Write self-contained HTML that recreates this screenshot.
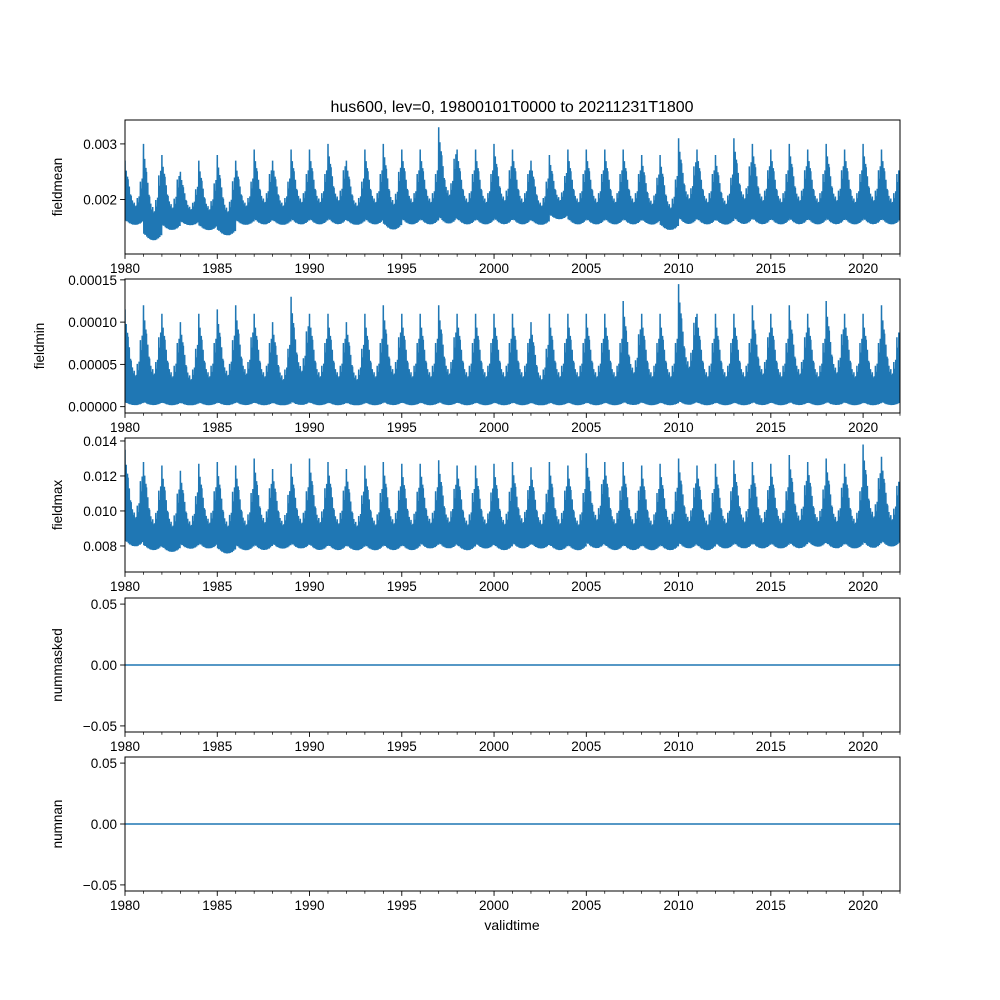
<!DOCTYPE html>
<html><head><meta charset="utf-8"><style>
html,body{margin:0;padding:0;background:#fff}
svg{display:block;font-family:"Liberation Sans","DejaVu Sans",sans-serif}
</style></head><body>
<svg id="fig" width="1000" height="1000" viewBox="0 0 1000 1000" xmlns="http://www.w3.org/2000/svg">
<rect width="1000" height="1000" fill="#fff"/>
<text x="512" y="112" text-anchor="middle" font-size="16">hus600, lev=0, 19800101T0000 to 20211231T1800</text>
<text x="512" y="930" text-anchor="middle" font-size="14">validtime</text>
</svg>
<script>
const years = [];
for (let y = 1980; y <= 2021; y++) years.push(y);
const xTickLabels = ["1980","1985","1990","1995","2000","2005","2010","2015","2020"];
// seasonal shape (0..1) by month, peak early in year
const climatology = [1.0,0.85,0.6,0.4,0.25,0.15,0.1,0.12,0.2,0.35,0.55,0.8];
const meanPeaks = [0.0027,0.0030,0.0028,0.0025,0.0027,0.0028,0.0027,0.0029,0.0027,0.0029,0.0029,0.0030,0.0027,0.0029,0.0030,0.0029,0.0029,0.0033,0.0029,0.0029,0.0030,0.0029,0.0027,0.0028,0.0029,0.0029,0.0029,0.0029,0.0028,0.0028,0.0031,0.0029,0.0028,0.0031,0.0030,0.0029,0.0030,0.0029,0.0030,0.0029,0.0030,0.0029];
const meanTroughs = [0.0015,0.0012,0.0014,0.0015,0.0014,0.0013,0.0015,0.0015,0.0015,0.0015,0.0015,0.0015,0.0015,0.0015,0.0014,0.0015,0.0015,0.0015,0.0015,0.0015,0.0015,0.0015,0.0015,0.0016,0.0015,0.0015,0.0015,0.0015,0.0015,0.0014,0.0015,0.0015,0.0015,0.0015,0.0015,0.0015,0.0015,0.0015,0.0015,0.0015,0.0015,0.0015];
const minPeaks = [0.000115,0.00012,0.00011,0.0001,0.00011,0.000115,0.00012,0.00011,0.0001,0.00013,0.00011,0.00011,0.0001,0.00011,0.00012,0.00011,0.00011,0.00012,0.00011,0.00011,0.00011,0.00011,0.0001,0.00011,0.00011,0.00011,0.00011,0.000125,0.00011,0.00011,0.000145,0.00011,0.00011,0.00011,0.00012,0.00011,0.00012,0.00011,0.000125,0.00011,0.00011,0.00012];
const minTroughs = new Array(42).fill(0.0000);
const maxPeaks = [0.0135,0.0128,0.0126,0.0123,0.0127,0.0128,0.0126,0.0130,0.0124,0.0127,0.0130,0.0128,0.0124,0.0126,0.0128,0.0127,0.0127,0.0129,0.0126,0.0126,0.0127,0.0128,0.0125,0.0128,0.0126,0.0133,0.0128,0.0128,0.0126,0.0127,0.0130,0.0126,0.0127,0.0129,0.0128,0.0127,0.0132,0.0128,0.0130,0.0127,0.0138,0.0131];
const maxTroughs = [0.0078,0.0076,0.0075,0.0077,0.0077,0.0074,0.0076,0.0076,0.0077,0.0077,0.0076,0.0076,0.0076,0.0076,0.0076,0.0076,0.0077,0.0077,0.0076,0.0077,0.0076,0.0077,0.0077,0.0076,0.0076,0.0077,0.0076,0.0076,0.0076,0.0076,0.0077,0.0076,0.0077,0.0077,0.0077,0.0077,0.0077,0.0078,0.0077,0.0077,0.0077,0.0078];
const maskedValues = [0,0];
const nanValues = [0,0];

const NS = "http://www.w3.org/2000/svg";
const svg = document.getElementById('fig');
const L = 125, R = 900, X0 = 1980, X1 = 2022;
const xs = v => L + (v - X0) / (X1 - X0) * (R - L);
function mk(tag, attrs, parent) { const e = document.createElementNS(NS, tag); for (const k in attrs) e.setAttribute(k, attrs[k]); (parent || svg).appendChild(e); return e; }

const panels = [
  {name:"fieldmean", top:120, bot:254, ymin:0.00102, ymax:0.00343, ticks:[0.002,0.003], labels:["0.002","0.003"], lx:62, kind:"wave", peaks:meanPeaks, troughs:meanTroughs, lowFrac:0.12},
  {name:"fieldmin", top:279, bot:413, ymin:-0.0000075, ymax:0.000151, ticks:[0,0.00005,0.0001,0.00015], labels:["0.00000","0.00005","0.00010","0.00015"], lx:44, kind:"wave", peaks:minPeaks, troughs:minTroughs, lowFrac:0.05},
  {name:"fieldmax", top:438, bot:572, ymin:0.00651, ymax:0.01417, ticks:[0.008,0.010,0.012,0.014], labels:["0.008","0.010","0.012","0.014"], lx:62, kind:"wave", peaks:maxPeaks, troughs:maxTroughs, lowFrac:0.1},
  {name:"nummasked", top:598, bot:732, ymin:-0.055, ymax:0.055, ticks:[-0.05,0,0.05], labels:["\u22120.05","0.00","0.05"], lx:62, kind:"flat", vals:maskedValues},
  {name:"numnan", top:757, bot:891, ymin:-0.055, ymax:0.055, ticks:[-0.05,0,0.05], labels:["\u22120.05","0.00","0.05"], lx:62, kind:"flat", vals:nanValues}
];

panels.forEach(p => {
  const g = mk('g', {});
  
  
  const ys = v => p.bot - (v - p.ymin) / (p.ymax - p.ymin) * (p.bot - p.top);
  const clip = mk('clipPath', {id: 'c-' + p.name}, g);
  mk('rect', {x:L, y:p.top, width:R-L, height:p.bot-p.top}, clip);
  let pts = [];
  if (p.kind === 'wave') {
    years.forEach((yr, i) => {
      for (let k = 0; k < 60; k++) {
        const t = yr + k / 60;
        const m = Math.floor(k / 5);
        const env = climatology[m];
        const hi = p.troughs[i] + (p.peaks[i] - p.troughs[i]) * (0.3 + 0.7 * env) * (k % 10 === 0 ? 1 : 0.85);
        const lo = p.troughs[i] + (hi - p.troughs[i]) * p.lowFrac;
        pts.push(xs(t).toFixed(1) + ',' + ys(k % 2 ? lo : hi).toFixed(1));
      }
    });
  } else {
    pts = [xs(X0) + ',' + ys(p.vals[0]), xs(X1) + ',' + ys(p.vals[1])];
  }
  const line = mk('polyline', {points: pts.join(' '), fill:'none', stroke:'#1f77b4', 'stroke-width':1.5, 'clip-path':'url(#c-' + p.name + ')'}, g);
  
  
  const frame = mk('rect', {x:L, y:p.top, width:R-L, height:p.bot-p.top, fill:'none', stroke:'#000', 'stroke-width':1}, g);
  
  
  for (let y = X0; y <= X1; y++) {
    const major = (y - X0) % 5 === 0 && y <= 2020;
    mk('line', {x1:xs(y), x2:xs(y), y1:p.bot, y2:p.bot + (major ? 4.9 : 2.8), stroke:'#000', 'stroke-width': major ? 0.9 : 0.7}, g);
  }
  xTickLabels.forEach(lb => {
    const t = mk('text', {x:xs(+lb), y:p.bot + 19, 'text-anchor':'middle', 'font-size':13.5}, g);
    t.textContent = lb;
    
    
  });
  p.ticks.forEach((v, j) => {
    mk('line', {x1:L-4.9, x2:L, y1:ys(v), y2:ys(v), stroke:'#000', 'stroke-width':0.9}, g);
    const t = mk('text', {x:L-8, y:ys(v) + 5, 'text-anchor':'end', 'font-size':13.5}, g);
    t.textContent = p.labels[j];
    
    
  });
  const cy = (p.top + p.bot) / 2;
  const yl = mk('text', {x:p.lx, y:cy, 'text-anchor':'middle', 'font-size':13.5, transform:'rotate(-90 ' + p.lx + ' ' + cy + ')'}, g);
  yl.textContent = p.name;
  
  
});
</script>
</body></html>
